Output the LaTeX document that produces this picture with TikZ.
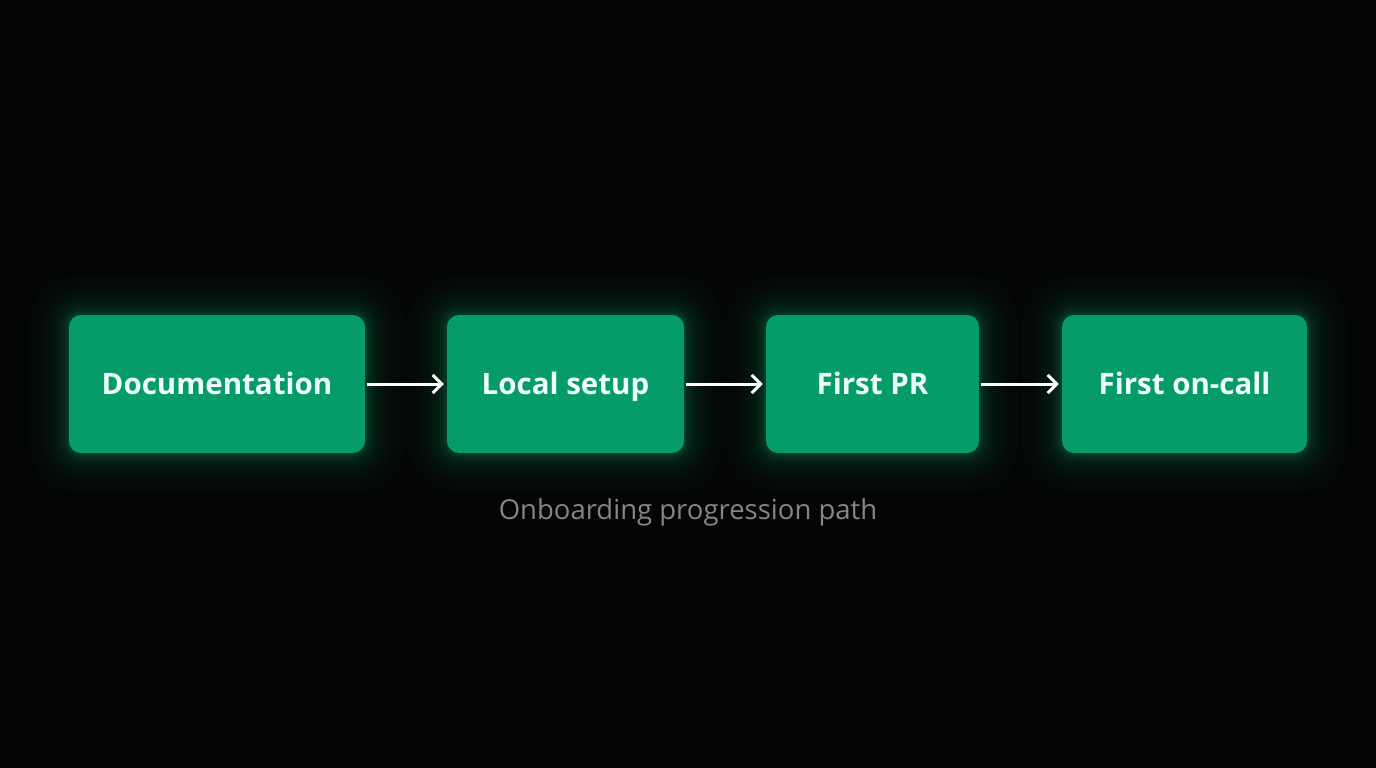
\documentclass[tikz,border=0pt]{standalone}
\usepackage{fontspec}
\setmainfont{Open Sans}
\usetikzlibrary{arrows.meta}
\definecolor{boxgreen}{HTML}{069C69}
\definecolor{glowgreen}{HTML}{0BB070}
\definecolor{captiongray}{HTML}{858585}
\definecolor{bgdark}{HTML}{040605}
\definecolor{labelwhite}{HTML}{EEFFF6}
\tikzset{
  stepbox/.style={fill=boxgreen, rounded corners=12pt, inner sep=0pt, text=labelwhite,
    text height=20pt, text depth=0pt,
    font=\fontsize{29.5}{31}\selectfont\bfseries},
  flow/.style={draw=white, line width=3pt, -{Straight Barb[length=9pt,width=18pt,line width=3pt]}},
}
\newcommand{\glowbox}[4]{%
  \foreach \g/\o in {40/0.012,34/0.016,28/0.02,23/0.025,18/0.03,14/0.035,10/0.045,7/0.055,4/0.065,2/0.08}{
    \pgfmathsetmacro{\rr}{12+\g}
    \fill[glowgreen, opacity=\o, rounded corners=\rr pt] (#1-\g,#2-\g) rectangle (#3+\g,#4+\g);
  }
}
\begin{document}
\begin{tikzpicture}[x=1pt,y=-1pt]
\fill[bgdark] (0,0) rectangle (1376,768);
\useasboundingbox (0,0) rectangle (1376,768);
\glowbox{69}{315}{365}{453}
\glowbox{447}{315}{684}{453}
\glowbox{766}{315}{979}{453}
\glowbox{1062}{315}{1307}{453}
\node[stepbox, minimum width=296pt, minimum height=138pt] (doc) at (217,384) {Documentation};
\node[stepbox, minimum width=237pt, minimum height=138pt] (local) at (565.5,384) {Local setup};
\node[stepbox, minimum width=213pt, minimum height=138pt] (pr) at (872.5,384) {First PR};
\node[stepbox, minimum width=245pt, minimum height=138pt] (oncall) at (1184.5,384) {First on-call};
\draw[flow] ([xshift=2pt]doc.east) -- ([xshift=-3pt]local.west);
\draw[flow] ([xshift=2pt]local.east) -- ([xshift=-3pt]pr.west);
\draw[flow] ([xshift=2pt]pr.east) -- ([xshift=-3pt]oncall.west);
\node[text=captiongray, font=\fontsize{27.5}{30}\selectfont] (cap) at (688,512) {Onboarding progression path};
\end{tikzpicture}
\end{document}
